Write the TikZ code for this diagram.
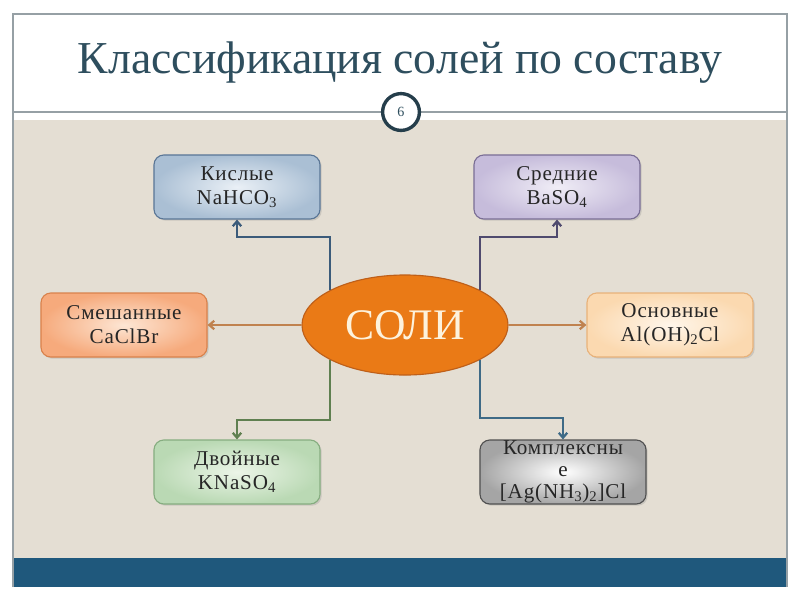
\documentclass[tikz,border=0pt]{standalone}
\usepackage{fontspec}
\setmainfont{Liberation Serif}
\usetikzlibrary{arrows.meta,shapes.geometric,shadows}

% slide colours
\definecolor{titleblue}{RGB}{46,78,94}
\definecolor{slidebeige}{RGB}{228,222,211}
\definecolor{bandblue}{RGB}{31,88,124}
\definecolor{framegray}{RGB}{150,160,165}
\definecolor{saltorange}{RGB}{234,122,22}
\definecolor{saltedge}{RGB}{190,95,25}
\definecolor{saltcream}{RGB}{253,242,220}

\begin{document}
\begin{tikzpicture}[
    x=0.025cm, y=-0.025cm,
    % --- Styles ---
    kind box/.style={draw, rounded corners=7pt, line width=0.8pt,
        minimum width=4.15cm, minimum height=1.6cm, align=center,
        font=\fontsize{15}{17}\selectfont\addfontfeatures{LetterSpace=4}, text=black!85,
        drop shadow={opacity=0.25, shadow xshift=1.2pt, shadow yshift=-1.2pt}},
    % Orange ellipse in the middle
    salt node/.style={ellipse, draw=saltedge, fill=saltorange, line width=0.8pt,
        minimum width=5.15cm, minimum height=2.5cm, inner sep=0pt,
        text=saltcream, font=\fontsize{31}{33}\selectfont},
    link line/.style={line width=1.6pt, -{Straight Barb[length=3.5pt, width=6pt]}}
]

%================BACKGROUND================
\useasboundingbox (0,0) rectangle (800,600);
\fill[white] (0,0) rectangle (800,600);
\fill[slidebeige] (13,120) rectangle (787,558);
\fill[bandblue] (13,558) rectangle (787,587);
\draw[framegray, line width=0.8pt] (13,587) -- (13,14) -- (787,14) -- (787,587);
\draw[framegray, line width=0.8pt] (13,112) -- (787,112);
%==========================================

% Title and slide number
\node[text=titleblue, font=\fontsize{32.5}{36}\selectfont] (title) at (400,63)
    {Классификация солей по составу};
\node[circle, draw=titleblue!80!black, fill=white, line width=2.4pt,
    minimum size=0.92cm, inner sep=0pt, font=\fontsize{10}{12}\selectfont, text=titleblue] (num) at (401,112) {6};

% --- Centre ---
\node[salt node] (salt) at (405,325) {СОЛИ};

% --- Kinds of salts ---
\node[kind box, draw={rgb,255:red,90;green,118;blue,150},
    inner color={rgb,255:red,234;green,240;blue,246}, outer color={rgb,255:red,170;green,191;blue,212}]
    (kis) at (237,187) {Кислые\\NaHCO\textsubscript{3}};
\node[kind box, draw={rgb,255:red,122;green,110;blue,149},
    inner color={rgb,255:red,240;green,237;blue,246}, outer color={rgb,255:red,198;green,188;blue,219}]
    (sred) at (557,187) {Средние\\BaSO\textsubscript{4}};
\node[kind box, draw={rgb,255:red,217;green,130;blue,76},
    inner color={rgb,255:red,253;green,230;blue,212}, outer color={rgb,255:red,246;green,170;blue,124}]
    (smesh) at (124,325) {Смешанные\\CaClBr};
\node[kind box, draw={rgb,255:red,232;green,178;blue,122},
    inner color={rgb,255:red,255;green,246;blue,234}, outer color={rgb,255:red,251;green,217;blue,176}]
    (osn) at (670,325) {Основные\\Al(OH)\textsubscript{2}Cl};
\node[kind box, draw={rgb,255:red,134;green,173;blue,128},
    inner color={rgb,255:red,236;green,245;blue,232}, outer color={rgb,255:red,186;green,217;blue,180}]
    (dvoin) at (237,472) {Двойные\\KNaSO\textsubscript{4}};
\node[kind box, draw={rgb,255:red,80;green,80;blue,80}, inner ysep=0pt,
    font=\fontsize{15}{15.5}\selectfont\addfontfeatures{LetterSpace=4},
    inner color=white, outer color={rgb,255:red,165;green,165;blue,165}]
    (kompl) at (563,472) {Комплексны\\е\\{}[Ag(NH\textsubscript{3})\textsubscript{2}]Cl};

% --- Connectors ---
\draw[link line, draw={rgb,255:red,59;green,91;blue,122}]
    (salt.155) -- (salt.155 |- 0,237) -| (kis.south);
\draw[link line, draw={rgb,255:red,79;green,74;blue,110}]
    (salt.25) -- (salt.25 |- 0,237) -| (sred.south);
\draw[link line, draw={rgb,255:red,192;green,130;blue,79}]
    (salt.west) -- (smesh.east);
\draw[link line, draw={rgb,255:red,192;green,130;blue,79}]
    (salt.east) -- (osn.west);
\draw[link line, draw={rgb,255:red,95;green,127;blue,80}]
    (salt.205) -- (salt.205 |- 0,420) -| (dvoin.north);
\draw[link line, draw={rgb,255:red,62;green,106;blue,134}]
    (salt.335) -- (salt.335 |- 0,418) -| (kompl.north);

\end{tikzpicture}
\end{document}
